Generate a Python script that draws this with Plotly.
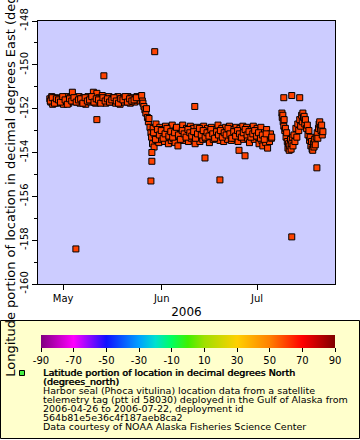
import pandas as pd
import plotly.graph_objects as go

# ---------------- data ----------------
# days since 2006-05-01 00:00, longitude in decimal degrees East
phase1_day = [-4.2, -3.9, -3.6, -3.3, -3.0, -2.6, -2.3, -2.0, -1.6, -1.3,
              -1.0, -0.6, -0.3, 0.1, 0.4, 0.8, 1.1, 1.5, 1.8, 2.2,
              2.5, 2.9, 3.2, 3.6, 3.9, 4.3, 4.6, 5.0, 5.3, 5.7,
              6.0, 6.4, 6.7, 7.1, 7.4, 7.8, 8.1, 8.5, 8.8, 9.2,
              9.5, 9.9, 10.2, 10.6, 10.9, 11.3, 11.6, 12.0, 12.3, 12.7,
              13.0, 13.4, 13.7, 14.1, 14.4, 14.8, 15.1, 15.5, 15.8, 16.2,
              16.5, 16.9, 17.2, 17.6, 17.9, 18.3, 18.6, 19.0, 19.3, 19.7,
              20.0, 20.4, 20.7, 21.1, 21.4, 21.8, 22.1, 22.5, 22.8, 23.2,
              23.5, 23.9, 24.2, 24.5]
phase1_lon = [-151.55, -151.70, -151.45, -151.80, -151.60, -151.50, -151.65, -151.75, -151.55, -151.60,
              -151.70, -151.50, -151.60, -151.80, -151.55, -151.65, -151.45, -151.60, -151.75, -151.50,
              -151.60, -151.25, -151.55, -151.65, -151.50, -151.70, -151.60, -151.45, -151.75, -151.55,
              -151.65, -151.50, -151.60, -151.80, -151.55, -151.45, -151.65, -151.70, -151.50, -151.60,
              -151.25, -151.55, -151.75, -151.30, -151.60, -151.50, -151.70, -151.55, -151.40, -151.65,
              -151.55, -151.75, -151.50, -151.60, -151.45, -151.70, -151.55, -151.65, -151.50, -151.60,
              -151.75, -151.55, -151.45, -151.65, -151.80, -151.55, -151.60, -151.50, -151.70, -151.55,
              -151.60, -151.45, -151.65, -151.75, -151.55, -151.50, -151.60, -151.70, -151.55, -151.45,
              -151.60, -151.50, -151.65, -151.45]
phase1b_day = [-4.05, -3.45, -2.75, -2.15, -1.45, -0.85, -0.15, 0.6, 1.3, 2.0,
               2.7, 3.4, 4.1, 4.8, 5.5, 6.2, 6.9, 7.6, 8.3, 9.0,
               9.7, 10.4, 11.1, 11.8, 12.5, 13.2, 13.9, 14.6, 15.3, 16.0,
               16.7, 17.4, 18.1, 18.8, 19.5, 20.2, 20.9, 21.6, 22.3, 23.0]
phase1b_lon = [-151.65, -151.50, -151.75, -151.55, -151.60, -151.70, -151.45, -151.60, -151.80, -151.55,
               -151.65, -151.50, -151.70, -151.60, -151.55, -151.75, -151.50, -151.65, -151.60, -151.45,
               -151.70, -151.55, -151.60, -151.75, -151.50, -151.65, -151.55, -151.70, -151.60, -151.50,
               -151.65, -151.75, -151.55, -151.60, -151.45, -151.70, -151.55, -151.65, -151.60, -151.50]

drop_day = [24.7, 24.9, 25.1, 25.4, 25.7, 26.0, 26.2, 26.5, 26.8, 27.0, 27.3, 27.6]
drop_lon = [-151.40, -151.65, -151.75, -151.90, -152.05, -152.20, -152.00, -152.40,
            -152.60, -152.45, -152.85, -153.10]

phase2_day = [27.8, 28.1, 28.3, 28.6, 28.9, 29.2, 29.5, 29.8, 30.1, 30.4,
              30.7, 31.0, 31.3, 31.6, 31.9, 32.2, 32.5, 32.8, 33.1, 33.4,
              33.7, 34.0, 34.3, 34.6, 34.9, 35.2, 35.5, 35.8, 36.1, 36.4,
              36.7, 37.0, 37.3, 37.6, 37.9, 38.2, 38.5, 38.8, 39.1, 39.4,
              39.7, 40.0, 40.3, 40.6, 40.9, 41.2, 41.5, 41.8, 42.1, 42.4,
              42.7, 43.0, 43.3, 43.6, 43.9, 44.2, 44.5, 44.8, 45.1, 45.4,
              45.7, 46.0, 46.3, 46.6, 46.9, 47.2, 47.5, 47.8, 48.1, 48.4,
              48.7, 49.0, 49.3, 49.6, 49.9, 50.2, 50.5, 50.8, 51.1, 51.4,
              51.7, 52.0, 52.3, 52.6, 52.9, 53.2, 53.5, 53.8, 54.1, 54.4,
              54.7, 55.0, 55.3, 55.6, 55.9, 56.2, 56.5, 56.8, 57.1, 57.4,
              57.7, 58.0, 58.3, 58.6, 58.9, 59.2, 59.5, 59.8, 60.1, 60.4,
              60.7, 61.0, 61.3, 61.6, 61.9, 62.2, 62.5, 62.8, 63.1, 63.4,
              63.7, 64.0, 64.3, 64.6, 64.9, 65.2, 65.5]
phase2_lon = [-153.30, -153.60, -152.90, -153.75, -153.20, -152.70, -153.45, -153.00, -153.55, -152.85,
              -153.25, -153.40, -152.95, -153.15, -153.50, -152.80, -153.30, -153.05, -153.60, -152.90,
              -153.20, -153.45, -152.75, -153.35, -153.10, -153.55, -152.95, -153.25, -153.70, -153.00,
              -152.85, -153.30, -153.15, -152.75, -153.45, -153.05, -153.35, -152.90, -153.20, -153.50,
              -153.00, -152.80, -153.35, -153.15, -152.90, -153.45, -153.60, -153.10, -152.85, -153.30,
              -153.05, -153.50, -152.95, -153.25, -153.40, -152.80, -153.15, -153.35, -153.00, -152.90,
              -153.30, -153.55, -153.05, -152.85, -153.20, -153.40, -153.10, -152.95, -153.35, -153.20,
              -152.75, -153.15, -153.45, -153.00, -152.90, -153.30, -153.50, -153.10, -152.85, -153.25,
              -153.40, -153.00, -152.80, -153.20, -153.45, -153.10, -152.95, -153.35, -153.05, -152.85,
              -153.25, -153.50, -153.00, -152.90, -153.30, -153.15, -152.80, -153.40, -153.20, -153.00,
              -152.85, -153.35, -153.10, -153.55, -152.95, -153.25, -153.05, -152.80, -153.40, -153.15,
              -153.00, -152.90, -153.30, -153.60, -153.20, -152.85, -153.45, -153.70, -153.10, -153.35,
              -153.55, -152.95, -153.80, -153.25, -153.50, -153.15, -153.35]
phase2b_day = [28.45, 29.05, 29.65, 30.25, 30.85, 31.45, 32.05, 32.65, 33.25, 33.85,
               34.45, 35.05, 35.65, 36.25, 36.85, 37.45, 38.05, 38.65, 39.25, 39.85,
               40.45, 41.05, 41.65, 42.25, 42.85, 43.45, 44.05, 44.65, 45.25, 45.85,
               46.45, 47.05, 47.65, 48.25, 48.85, 49.45, 50.05, 50.65, 51.25, 51.85,
               52.45, 53.05, 53.65, 54.25, 54.85, 55.45, 56.05, 56.65, 57.25, 57.85,
               58.45, 59.05, 59.65, 60.25, 60.85, 61.45, 62.05, 62.65, 63.25, 63.85]
phase2b_lon = [-153.10, -153.40, -152.95, -153.20, -153.00, -153.35, -153.15, -152.90, -153.25, -153.05,
               -153.30, -153.10, -152.85, -153.20, -153.40, -153.00, -153.15, -153.30, -152.95, -153.10,
               -153.25, -153.05, -153.35, -153.15, -152.90, -153.20, -153.00, -153.30, -153.10, -153.25,
               -152.95, -153.15, -153.35, -153.05, -153.20, -153.00, -153.30, -153.10, -153.20, -152.90,
               -153.15, -153.35, -153.05, -153.25, -153.00, -153.15, -153.30, -153.10, -152.95, -153.20,
               -153.05, -153.30, -153.15, -153.00, -153.25, -153.10, -153.35, -153.20, -153.40, -153.15]

phase3_day = [68.8, 68.9, 69.1, 69.2, 69.4, 69.5, 69.7, 69.9, 70.1, 70.3,
              70.5, 70.7, 70.9, 71.1, 71.3, 71.5, 71.7, 71.9, 72.1, 72.3,
              72.6, 72.9, 73.2, 73.5, 73.8, 74.1, 74.4, 74.7, 75.0, 75.2,
              75.4, 75.6, 75.8, 76.0, 76.2, 76.5, 76.8, 77.0, 77.3, 77.5,
              77.7, 77.9, 78.1, 78.3, 78.5, 78.7, 78.9, 79.1, 79.3, 79.6,
              79.9, 80.1, 80.3, 80.5, 80.7, 80.9, 81.1, 81.3, 81.5, 81.7]
phase3_lon = [-152.2, -152.4, -152.3, -152.6, -152.8, -152.5, -153.0, -152.9, -153.3, -153.1,
              -153.5, -153.8, -153.6, -153.9, -153.7, -153.4, -153.85, -153.6, -153.3, -153.7,
              -153.2, -153.5, -152.9, -153.3, -152.7, -153.0, -152.5, -152.8, -152.3, -152.6,
              -152.2, -152.4, -152.35, -152.7, -152.5, -152.9, -152.75, -153.2, -153.0, -153.45,
              -153.3, -153.7, -153.5, -153.85, -153.9, -153.6, -153.75, -153.4, -153.65, -153.3,
              -153.1, -153.35, -152.9, -152.7, -152.6, -152.85, -153.0, -152.75, -153.2, -153.05]

outlier_day = [4.0, 10.6, 12.8, 27.6, 27.9, 27.9, 28.8, 41.4, 44.6, 49.3,
               55.3, 57.2, 65.6, 69.4, 71.9, 74.4, 71.9, 79.8]
outlier_lon = [-158.4, -152.5, -150.5, -155.3, -154.4, -154.0, -149.4, -151.9, -154.25, -155.25,
               -153.9, -154.15, -153.3, -151.5, -151.4, -151.5, -157.85, -154.7]

y_ticks = [-160, -158, -156, -154, -152, -150, -148]
y_tick_text = ["-160", "-158", "-156", "-154", "-152", "-150", "-148"]
x_tick_dates = ["2006-05-01", "2006-06-01", "2006-07-01"]
x_tick_text = ["May", "Jun", "Jul"]
cbar_ticks = [-90, -70, -50, -30, -10, 10, 30, 50, 70, 90]
cbar_tick_text = ["-90", "-70", "-50", "-30", "-10", "10", "30", "50", "70", "90"]

legend_title = ["Latitude portion of location in decimal degrees North", "(degrees_north)"]
legend_lines = [
    "Harbor seal (Phoca vitulina) location data from a satellite",
    "telemetry tag (ptt id 58030) deployed in the Gulf of Alaska from",
    "2006-04-26 to 2006-07-22, deployment id",
    "564b81e5e36c4f187aeb8ca2",
    "Data courtesy of NOAA Alaska Fisheries Science Center",
]

# ---------------- build ----------------
all_day = phase1_day + phase1b_day + drop_day + phase2_day + phase2b_day + phase3_day + outlier_day
all_lon = phase1_lon + phase1b_lon + drop_lon + phase2_lon + phase2b_lon + phase3_lon + outlier_lon
base = pd.Timestamp("2006-05-01")
times = [base + pd.to_timedelta(d, unit="D") for d in all_day]

FONT = "DejaVu Sans"
W, H = 360, 440
ML, MR, MT, MB = 38, 25, 21, 156
PW, PH = W - ML - MR, H - MT - MB


def px(xp):
    return (xp - ML) / PW


def py(yp):
    return (H - MB - yp) / PH


rainbow = [
    [0.0, "#800080"], [0.111, "#ff00ff"], [0.222, "#1010ff"], [0.333, "#00a0ff"],
    [0.389, "#00e0d0"], [0.444, "#00ff60"], [0.5, "#40f000"], [0.556, "#a0e000"],
    [0.667, "#ffd000"], [0.778, "#ff8000"], [0.889, "#ff0000"], [1.0, "#800000"],
]

fig = go.Figure()
fig.add_trace(go.Scatter(
    x=times, y=all_lon, mode="markers",
    marker=dict(symbol="square", size=6, color="#ff4200",
                line=dict(color="black", width=1)),
    showlegend=False, hoverinfo="x+y",
))
fig.add_trace(go.Scatter(
    x=[None], y=[None], mode="markers", showlegend=False, hoverinfo="skip",
    marker=dict(color=[0], cmin=-90, cmax=90, colorscale=rainbow, showscale=True,
                colorbar=dict(orientation="h", thickness=13, len=294, lenmode="pixels",
                              x=px(188), xanchor="center", y=py(335), yanchor="top",
                              xpad=0, ypad=0, outlinewidth=0,
                              tickvals=cbar_ticks, ticktext=cbar_tick_text,
                              ticks="outside", ticklen=4,
                              tickcolor="black", tickwidth=1,
                              tickfont=dict(family=FONT, size=10, color="black"))),
))

shapes = [
    dict(type="rect", xref="paper", yref="paper", x0=px(0.5), x1=px(359.5),
         y0=py(438.5), y1=py(320.5), fillcolor="#ffffcc",
         line=dict(color="black", width=1), layer="below"),
    dict(type="rect", xref="paper", yref="paper", x0=px(19.5), x1=px(24.5),
         y0=py(375.5), y1=py(370.5), fillcolor="#44ee44",
         line=dict(color="black", width=1), layer="above"),
]

annotations = []
for i, t in enumerate(legend_title):
    annotations.append(dict(text=t, xref="paper", yref="paper",
                            x=px(41.5), y=py(372.7 + 9 * i), xanchor="left", yanchor="middle",
                            showarrow=False, borderpad=0,
                            font=dict(family=FONT, size=9.5, color="black",
                                      shadow="0.6px 0px 0px black")))
for i, t in enumerate(legend_lines):
    annotations.append(dict(text=t, xref="paper", yref="paper",
                            x=px(41.5), y=py(390.7 + 9 * i), xanchor="left", yanchor="middle",
                            showarrow=False, borderpad=0,
                            font=dict(family=FONT, size=9.5, color="black")))

fig.update_layout(
    width=W, height=H,
    margin=dict(l=ML, r=MR, t=MT, b=MB, autoexpand=False),
    paper_bgcolor="white", plot_bgcolor="#ccccff",
    font=dict(family=FONT, size=10, color="black"),
    shapes=shapes, annotations=annotations,
    xaxis=dict(type="date", range=["2006-04-23 02:00", "2006-07-25 12:00"],
               tickvals=x_tick_dates, ticktext=x_tick_text,
               ticks="outside", ticklen=5, tickcolor="black",
               showgrid=False, zeroline=False,
               showline=True, linecolor="black", linewidth=1, mirror=True,
               tickfont=dict(size=10),
               title=dict(text="2006", font=dict(size=12), standoff=4)),
    yaxis=dict(range=[-160, -148], tickvals=y_ticks, ticktext=y_tick_text, tickangle=-90,
               ticks="outside", ticklen=5, tickcolor="black",
               minor=dict(dtick=1, ticks="outside", ticklen=3, tickcolor="black"),
               showgrid=False, zeroline=False,
               showline=True, linecolor="black", linewidth=1, mirror=True,
               tickfont=dict(size=10),
               title=dict(text="Longitude portion of location in decimal degrees East (degrees_east)",
                          font=dict(size=13), standoff=0)),
)

fig.write_html("out.html", config={"displayModeBar": False},
               post_script="document.body.style.margin='0px';")
